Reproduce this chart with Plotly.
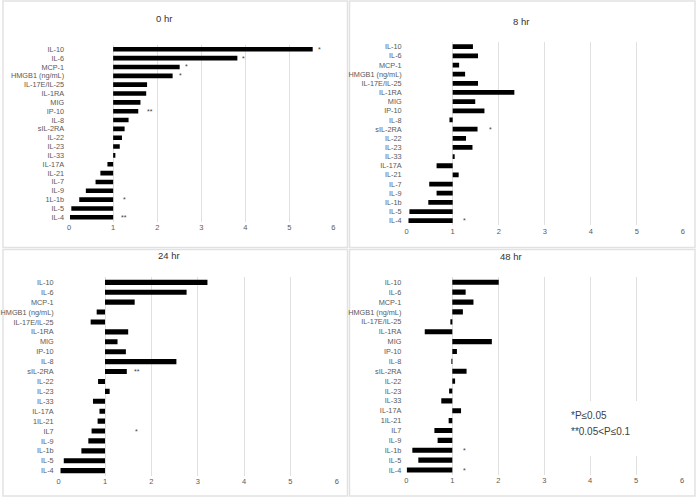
import plotly.graph_objects as go

W, H = 698, 497
BASELINE = 1

titles = ["0 hr", "8 hr", "24 hr", "48 hr"]

cats_0 = ["IL-10", "IL-6", "MCP-1", "HMGB1 (ng/mL)", "IL-17E/IL-25", "IL-1RA", "MIG", "IP-10",
          "IL-8", "sIL-2RA", "IL-22", "IL-23", "IL-33", "IL-17A", "IL-21", "IL-7", "IL-9",
          "1L-1b", "IL-5", "IL-4"]
vals_0 = [5.53, 3.82, 2.51, 2.35, 1.77, 1.75, 1.62, 1.57, 1.35, 1.26, 1.20, 1.15, 1.05,
          0.87, 0.71, 0.60, 0.38, 0.23, 0.05, 0.02]

cats_8 = ["IL-10", "IL-6", "MCP-1", "HMGB1 (ng/mL)", "IL-17E/IL-25", "IL-1RA", "MIG", "IP-10",
          "IL-8", "sIL-2RA", "IL-22", "IL-23", "IL-33", "IL-17A", "IL-21", "IL-7", "IL-9",
          "IL-1b", "IL-5", "IL-4"]
vals_8 = [1.44, 1.55, 1.14, 1.27, 1.55, 2.34, 1.49, 1.69, 0.93, 1.54, 1.29, 1.43, 1.04,
          0.65, 1.13, 0.49, 0.65, 0.47, 0.06, 0.04]

cats_24 = ["IL-10", "IL-6", "MCP-1", "HMGB1 (ng/mL)", "IL-17E/IL-25", "IL-1RA", "MIG", "IP-10",
           "IL-8", "sIL-2RA", "IL-22", "IL-23", "IL-33", "IL-17A", "1IL-21", "IL7", "IL-9",
           "IL-1b", "IL-5", "IL-4"]
vals_24 = [3.21, 2.76, 1.64, 0.82, 0.69, 1.50, 1.27, 1.45, 2.54, 1.47, 0.85, 1.10, 0.74,
           0.88, 0.84, 0.71, 0.64, 0.49, 0.11, 0.04]

cats_48 = ["IL-10", "IL-6", "MCP-1", "HMGB1 (ng/mL)", "IL-17E/IL-25", "IL-1RA", "MIG", "IP-10",
           "IL-8", "sIL-2RA", "IL-22", "IL-23", "IL-33", "IL-17A", "1IL-21", "IL7", "IL-9",
           "IL-1b", "IL-5", "IL-4"]
vals_48 = [2.01, 1.29, 1.46, 1.23, 0.96, 0.40, 1.86, 1.10, 0.99, 1.31, 1.06, 0.93, 0.76,
           1.19, 0.92, 0.61, 0.68, 0.13, 0.26, 0.01]

# significance markers: (category, text, x position)
sig_0 = [("IL-10", "*", 5.68), ("IL-6", "*", 3.96), ("MCP-1", "*", 2.66),
         ("HMGB1 (ng/mL)", "*", 2.53), ("IP-10", "**", 1.83), ("1L-1b", "*", 1.26),
         ("IL-4", "**", 1.24)]
sig_8 = [("sIL-2RA", "*", 1.82), ("IL-4", "*", 1.26)]
sig_24 = [("sIL-2RA", "**", 1.70), ("IL7", "*", 1.68)]
sig_48 = [("IL-1b", "*", 1.27), ("IL-4", "*", 1.27)]

legend_lines = ["*P≤0.05", "**0.05<P≤0.1"]

xticks = [0, 1, 2, 3, 4, 5, 6]

panels = [
    dict(cats=cats_0, vals=vals_0, sig=sig_0, title=titles[0],
         x0=67.5, x6=333.3, ytop=49.3, ybot=217.3, tx=163, ty=18),
    dict(cats=cats_8, vals=vals_8, sig=sig_8, title=titles[1],
         x0=407.0, x6=684.7, ytop=46.7, ybot=220.7, tx=522, ty=21.7),
    dict(cats=cats_24, vals=vals_24, sig=sig_24, title=titles[2],
         x0=57.0, x6=336.7, ytop=282.3, ybot=470.7, tx=167.7, ty=255.7),
    dict(cats=cats_48, vals=vals_48, sig=sig_48, title=titles[3],
         x0=406.7, x6=684.0, ytop=282.3, ybot=470.0, tx=512, ty=256.7),
]

FONT = "Liberation Sans, Arial, Helvetica, sans-serif"
fig = go.Figure()
annotations = []
shapes = []
layout = dict(width=W, height=H, margin=dict(l=0, r=0, t=0, b=0),
              paper_bgcolor="white", plot_bgcolor="white", showlegend=False,
              font=dict(family=FONT, color="#595959"))

for i, p in enumerate(panels):
    n = len(p["cats"])
    sp = (p["ybot"] - p["ytop"]) / (n - 1)
    top = p["ytop"] - sp / 2
    bot = p["ybot"] + sp / 2
    suffix = "" if i == 0 else str(i + 1)
    xa, ya = "x" + suffix, "y" + suffix
    fig.add_trace(go.Bar(
        y=p["cats"], x=[v - BASELINE for v in p["vals"]], base=BASELINE,
        orientation="h", marker=dict(color="black", line=dict(width=0)),
        width=0.52, xaxis=xa, yaxis=ya, hoverinfo="skip"))
    layout["xaxis" + suffix] = dict(
        domain=[p["x0"] / W, p["x6"] / W], range=[0, 6], anchor=ya,
        tickvals=xticks, ticktext=[str(t) for t in xticks],
        showgrid=True, gridcolor="#e0e0e0", gridwidth=1, zeroline=False,
        showline=False, ticks="", tickfont=dict(size=7.5, color="#595959"),
        fixedrange=True)
    layout["yaxis" + suffix] = dict(
        domain=[1 - bot / H, 1 - top / H], anchor=xa,
        categoryorder="array", categoryarray=list(reversed(p["cats"])),
        tickmode="array", tickvals=p["cats"], ticktext=p["cats"],
        range=[-0.5, n - 0.5], showgrid=False, zeroline=False, showline=False,
        ticks="", ticklabelstandoff=4, tickfont=dict(size=7.3, color="#595959"),
        fixedrange=True)
    annotations.append(dict(text=p["title"], x=p["tx"] / W, y=1 - p["ty"] / H,
                            xref="paper", yref="paper", showarrow=False,
                            xanchor="center", yanchor="middle",
                            font=dict(size=9.5, color="#333333", family=FONT)))
    for cat, txt, xv in p["sig"]:
        annotations.append(dict(text=txt, x=xv, y=cat, xref=xa, yref=ya,
                                showarrow=False, xanchor="center", yanchor="middle",
                                font=dict(size=7, color="#404040", family=FONT)))

# white box behind legend text (48 hr panel)
shapes.append(dict(type="rect", xref="paper", yref="paper",
                   x0=566 / W, x1=641 / W, y0=1 - 456 / H, y1=1 - 401 / H,
                   fillcolor="white", line=dict(width=0), layer="above"))
for k, (txt, yy) in enumerate(zip(legend_lines, [415, 431.5])):
    annotations.append(dict(text=txt, x=570 / W, y=1 - yy / H, xref="paper", yref="paper",
                            showarrow=False, xanchor="left", yanchor="middle",
                            font=dict(size=10, color="#404040", family=FONT)))

# panel borders
border = "#e2e2e2"
for (x0, y0, x1, y1) in [(1, 1, 347.5, 247.5), (349.5, 1, 697, 247.5),
                         (1, 249.5, 347.5, 496), (349.5, 249.5, 697, 496)]:
    shapes.append(dict(type="rect", xref="paper", yref="paper",
                       x0=x0 / W, x1=x1 / W, y0=1 - y1 / H, y1=1 - y0 / H,
                       line=dict(color=border, width=1.5), fillcolor="rgba(0,0,0,0)",
                       layer="below"))

layout["annotations"] = annotations
layout["shapes"] = shapes
fig.update_layout(**layout)
fig.write_html("out.html", config={"displayModeBar": False},
               post_script="document.body.style.margin='0';document.body.style.padding='0';")
